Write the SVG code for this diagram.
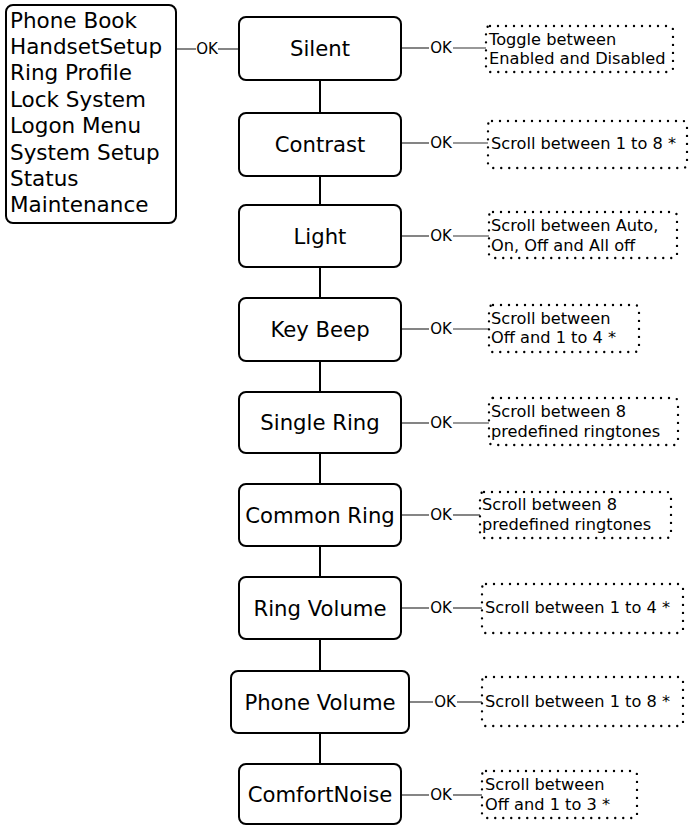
<svg xmlns="http://www.w3.org/2000/svg" width="689" height="826" viewBox="0 0 689 826">
<style>
.box{fill:#fff;stroke:#000;stroke-width:2}
.dot{fill:none;stroke:#000;stroke-width:2.4;stroke-dasharray:0 8;stroke-linecap:round}
.t{font-family:"DejaVu Sans",Verdana,sans-serif;fill:#000}
.main{font-size:21.2px;text-anchor:middle}
.menu{font-size:21.5px}
.small{font-size:16.2px}
.ok{font-size:15px;text-anchor:middle}
.vl{stroke:#000;stroke-width:2}
.hl{stroke:#333;stroke-width:1.2}
</style>
<rect width="689" height="826" fill="#fff"/>
<g id="connectors">
<line class="vl" x1="320" y1="80" x2="320" y2="113"/>
<line class="vl" x1="320" y1="176" x2="320" y2="205"/>
<line class="vl" x1="320" y1="267" x2="320" y2="298"/>
<line class="vl" x1="320" y1="361" x2="320" y2="392"/>
<line class="vl" x1="320" y1="453" x2="320" y2="484"/>
<line class="vl" x1="320" y1="546" x2="320" y2="577"/>
<line class="vl" x1="320" y1="639" x2="320" y2="671"/>
<line class="vl" x1="320" y1="733" x2="320" y2="764"/>
<g id="ok-menu"><line class="hl" x1="176" y1="49" x2="196" y2="49"/><text class="t ok" x="207" y="54">OK</text><line class="hl" x1="218" y1="49" x2="239" y2="49"/></g>
<g id="ok-silent"><line class="hl" x1="401" y1="48" x2="429" y2="48"/><text class="t ok" x="441" y="53">OK</text><line class="hl" x1="453" y1="48" x2="486" y2="48"/></g>
<g id="ok-contrast"><line class="hl" x1="401" y1="143" x2="429" y2="143"/><text class="t ok" x="441" y="148">OK</text><line class="hl" x1="453" y1="143" x2="488" y2="143"/></g>
<g id="ok-light"><line class="hl" x1="401" y1="236" x2="429" y2="236"/><text class="t ok" x="441" y="241">OK</text><line class="hl" x1="453" y1="236" x2="489" y2="236"/></g>
<g id="ok-keybeep"><line class="hl" x1="401" y1="329" x2="429" y2="329"/><text class="t ok" x="441" y="334">OK</text><line class="hl" x1="453" y1="329" x2="489" y2="329"/></g>
<g id="ok-single"><line class="hl" x1="401" y1="423" x2="429" y2="423"/><text class="t ok" x="441" y="428">OK</text><line class="hl" x1="453" y1="423" x2="489" y2="423"/></g>
<g id="ok-common"><line class="hl" x1="401" y1="515" x2="429" y2="515"/><text class="t ok" x="441" y="520">OK</text><line class="hl" x1="453" y1="515" x2="480" y2="515"/></g>
<g id="ok-ringvol"><line class="hl" x1="401" y1="608" x2="429" y2="608"/><text class="t ok" x="441" y="613">OK</text><line class="hl" x1="453" y1="608" x2="482" y2="608"/></g>
<g id="ok-phonevol"><line class="hl" x1="409" y1="702" x2="433" y2="702"/><text class="t ok" x="445" y="707">OK</text><line class="hl" x1="457" y1="702" x2="482" y2="702"/></g>
<g id="ok-comfort"><line class="hl" x1="401" y1="795" x2="429" y2="795"/><text class="t ok" x="441" y="800">OK</text><line class="hl" x1="453" y1="795" x2="482" y2="795"/></g>
</g>
<g id="menu">
<rect class="box" x="6" y="5" width="170" height="218" rx="7"/>
<text class="t menu" x="10" y="27.5">Phone Book</text>
<text class="t menu" x="10" y="53.9">HandsetSetup</text>
<text class="t menu" x="10" y="80.3">Ring Profile</text>
<text class="t menu" x="10" y="106.7">Lock System</text>
<text class="t menu" x="10" y="133.1">Logon Menu</text>
<text class="t menu" x="10" y="159.5">System Setup</text>
<text class="t menu" x="10" y="185.9">Status</text>
<text class="t menu" x="10" y="212.3">Maintenance</text>
</g>
<g id="silent"><rect class="box" x="239" y="17" width="162" height="63" rx="7"/><text class="t main" x="320" y="56">Silent</text></g>
<g id="contrast"><rect class="box" x="239" y="113" width="162" height="63" rx="7"/><text class="t main" x="320" y="152">Contrast</text></g>
<g id="light"><rect class="box" x="239" y="205" width="162" height="62" rx="7"/><text class="t main" x="320" y="243.5">Light</text></g>
<g id="keybeep"><rect class="box" x="239" y="298" width="162" height="63" rx="7"/><text class="t main" x="320" y="337">Key Beep</text></g>
<g id="singlering"><rect class="box" x="239" y="392" width="162" height="61" rx="7"/><text class="t main" x="320" y="430">Single Ring</text></g>
<g id="commonring"><rect class="box" x="239" y="484" width="162" height="62" rx="7"/><text class="t main" x="320" y="522.5">Common Ring</text></g>
<g id="ringvolume"><rect class="box" x="239" y="577" width="162" height="62" rx="7"/><text class="t main" x="320" y="615.5">Ring Volume</text></g>
<g id="phonevolume"><rect class="box" x="231" y="671" width="178" height="62" rx="7"/><text class="t main" x="320" y="709.5">Phone Volume</text></g>
<g id="comfortnoise"><rect class="box" x="239" y="764" width="162" height="60" rx="7"/><text class="t main" x="320" y="801.5">ComfortNoise</text></g>
<g id="note-silent"><rect class="dot" x="486" y="26" width="187" height="46" rx="4"/><text class="t small" x="489" y="45">Toggle between</text><text class="t small" x="489" y="64">Enabled and Disabled</text></g>
<g id="note-contrast"><rect class="dot" x="488" y="121" width="199" height="47" rx="4"/><text class="t small" x="491" y="149">Scroll between 1 to 8 *</text></g>
<g id="note-light"><rect class="dot" x="489" y="212" width="188" height="46" rx="4"/><text class="t small" x="491" y="231">Scroll between Auto,</text><text class="t small" x="491" y="251">On, Off and All off</text></g>
<g id="note-keybeep"><rect class="dot" x="489" y="305" width="150" height="47" rx="4"/><text class="t small" x="491" y="324">Scroll between</text><text class="t small" x="491" y="343">Off and 1 to 4 *</text></g>
<g id="note-single"><rect class="dot" x="489" y="398" width="189" height="47" rx="4"/><text class="t small" x="491" y="417">Scroll between 8</text><text class="t small" x="491" y="437">predefined ringtones</text></g>
<g id="note-common"><rect class="dot" x="480" y="492" width="191" height="46" rx="4"/><text class="t small" x="482" y="510">Scroll between 8</text><text class="t small" x="482" y="530">predefined ringtones</text></g>
<g id="note-ringvol"><rect class="dot" x="482" y="584" width="201" height="49" rx="4"/><text class="t small" x="485" y="613">Scroll between 1 to 4 *</text></g>
<g id="note-phonevol"><rect class="dot" x="482" y="677" width="201" height="49" rx="4"/><text class="t small" x="485" y="707">Scroll between 1 to 8 *</text></g>
<g id="note-comfort"><rect class="dot" x="482" y="771" width="155" height="47" rx="4"/><text class="t small" x="485" y="790">Scroll between</text><text class="t small" x="485" y="810">Off and 1 to 3 *</text></g>
</svg>
